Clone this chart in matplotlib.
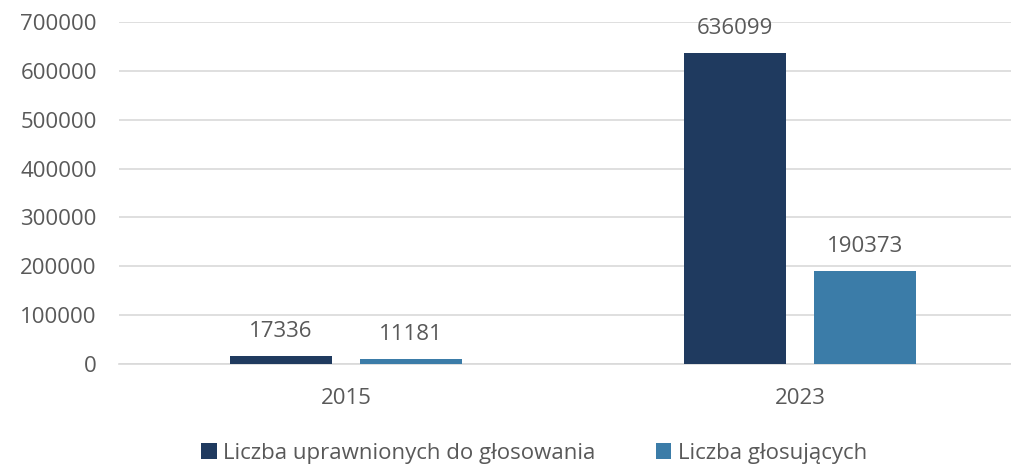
import numpy as np
import matplotlib.pyplot as plt

plt.rcParams['font.family'] = ['Open Sans', 'DejaVu Sans']

years = ['2015', '2023']
uprawnieni = [17336, 636099]
glosujacy = [11181, 190373]
labels = ['Liczba uprawnionych do głosowania', 'Liczba głosujących']
colors = ['#1f3a5f', '#3b7ca8']
txt = '#595959'

fig = plt.figure(figsize=(10.12, 4.68), dpi=100)
ax = fig.add_axes([119/1012, 1 - 364/468, 908/1012, 342/468])

x = np.arange(len(years))
w = 0.225
off = w/2 + 0.031
b1 = ax.bar(x - off, uprawnieni, w, color=colors[0], label=labels[0], zorder=3)
b2 = ax.bar(x + off, glosujacy, w, color=colors[1], label=labels[1], zorder=3)

for bars in (b1, b2):
    for r in bars:
        ax.annotate(str(int(r.get_height())), (r.get_x() + r.get_width()/2, r.get_height()),
                    xytext=(0, 10), textcoords='offset points', ha='center', va='bottom',
                    fontsize=16, color=txt, zorder=4)

ax.set_xlim(-0.5, 1.5)
ax.set_ylim(0, 700000)
ax.set_yticks(np.arange(0, 700001, 100000))
ax.set_xticks(x)
ax.set_xticklabels(years)
ax.yaxis.grid(True, color='#d9d9d9', linewidth=1.2, zorder=0)
for s in ['top', 'right', 'left']:
    ax.spines[s].set_visible(False)
ax.spines['bottom'].set_color('#d9d9d9')
ax.spines['bottom'].set_linewidth(1.2)
ax.tick_params(axis='both', length=0, labelsize=16, labelcolor=txt)
ax.tick_params(axis='y', pad=16)
ax.tick_params(axis='x', pad=17)

fig.legend(loc='center', bbox_to_anchor=(534/1012, 1 - 453/468), ncol=2, frameon=False,
           fontsize=16, labelcolor=txt, handlelength=0.7, handleheight=0.7,
           handletextpad=0.3, columnspacing=2.7)

fig.savefig('out.png', dpi=100)
